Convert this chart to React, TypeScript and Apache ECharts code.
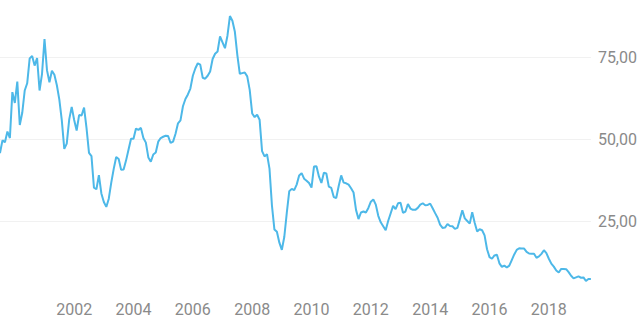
import React, { useEffect, useRef } from "react";
import * as echarts from "echarts";

// Monthly values, July 1999 – June 2019
const startYear = 1999;
const startMonth = 7;

const values: number[] = [
  45.7, 49.6, 49.0, 52.3, 50.3, 64.3, 61.0, 67.5, 54.3, 58.0, 64.8, 67.0,
  74.6, 75.3, 72.4, 74.7, 64.8, 69.9, 80.5, 71.0, 67.3, 70.8, 69.6, 66.4,
  62.0, 55.7, 47.0, 48.6, 56.0, 59.8, 55.8, 52.6, 57.3, 57.2, 59.6, 53.3,
  45.8, 44.8, 35.2, 34.7, 39.0, 33.4, 30.8, 29.3, 31.8, 36.7, 40.9, 44.5,
  43.9, 40.6, 40.7, 43.5, 46.8, 50.1, 50.1, 53.2, 52.8, 53.4, 50.3, 48.9,
  44.4, 43.1, 45.3, 45.9, 49.2, 50.3, 50.7, 51.0, 50.9, 48.8, 49.2, 51.6,
  54.8, 55.7, 60.0, 62.2, 63.6, 65.4, 69.3, 71.5, 73.1, 72.7, 68.7, 68.4,
  69.3, 70.6, 74.4, 76.0, 76.7, 81.3, 79.5, 77.7, 81.5, 87.5, 86.1, 82.7,
  75.6, 69.9, 70.1, 70.3, 69.1, 65.0, 57.8, 56.7, 57.4, 55.9, 46.3, 44.7,
  45.4, 41.0, 29.7, 22.4, 21.7, 18.4, 16.2, 20.2, 27.5, 34.1, 34.8, 34.4,
  36.1, 38.9, 39.6, 37.9, 37.3, 36.6, 35.2, 41.6, 41.7, 38.6, 36.6, 39.7,
  39.5, 35.5, 35.1, 32.3, 32.0, 35.7, 38.9, 36.7, 36.5, 36.1, 35.0, 33.7,
  28.4, 25.6, 27.6, 27.9, 27.6, 29.0, 30.9, 31.6, 30.0, 26.6, 24.6, 23.4,
  22.2, 25.0, 27.3, 29.6, 28.6, 30.4, 30.6, 27.5, 27.9, 30.2, 28.8, 28.4,
  28.4, 29.0, 30.0, 30.4, 29.8, 29.9, 30.3, 28.9, 27.4, 26.0, 23.9, 22.9,
  23.0, 24.1, 23.5, 23.4, 22.6, 22.9, 25.5, 28.3, 25.8, 25.0, 24.2, 27.7,
  24.5, 21.8, 22.5, 22.2, 20.6, 16.4, 14.0, 13.5, 14.5, 14.7, 12.1, 11.0,
  11.4, 10.8, 11.4, 13.1, 14.8, 16.2, 16.7, 16.6, 16.6, 15.6, 15.1, 15.0,
  15.0, 13.8, 14.2, 15.0, 16.1, 15.2, 13.5, 12.0, 11.1, 9.9, 9.3, 10.4,
  10.4, 10.3, 9.4, 8.3, 7.5, 7.8, 8.1, 7.7, 7.8, 6.7, 7.3, 7.3,
];

const months: string[] = values.map((_, i) => {
  const m0 = startMonth - 1 + i;
  const y = startYear + Math.floor(m0 / 12);
  const m = (m0 % 12) + 1;
  return `${y}-${m < 10 ? "0" + m : m}`;
});

const yTicks = [25, 50, 75];
const yMin = 0;
const yMax = 92.4;

export default function App() {
  const ref = useRef<HTMLDivElement>(null);
  useEffect(() => {
    if (!ref.current) return;
    const chart = echarts.init(ref.current, null, { renderer: "svg" });
    chart.setOption({
      animation: false,
      grid: { left: 0, right: 47, top: 0, bottom: 17, containLabel: false },
      xAxis: {
        type: "category",
        data: months,
        boundaryGap: false,
        axisLine: { show: false },
        axisTick: { show: false },
        splitLine: { show: false },
        axisLabel: {
          interval: (idx: number, val: string) => {
            const [y, m] = val.split("-").map(Number);
            return m === 1 && y % 2 === 0 && y >= 2002;
          },
          formatter: (val: string) => val.split("-")[0],
          margin: -2,
          color: "#8a8a8a",
          fontSize: 16,
          fontFamily: "Roboto",
        },
      },
      yAxis: {
        type: "value",
        position: "right",
        min: yMin,
        max: yMax,
        interval: 25,
        axisLine: { show: false },
        axisTick: { show: false },
        splitLine: {
          show: true,
          showMinLine: false,
          showMaxLine: false,
          lineStyle: { color: "#f1f1f1", width: 1 },
        },
        axisLabel: {
          showMinLabel: false,
          showMaxLabel: false,
          margin: 7,
          color: "#8a8a8a",
          fontSize: 16,
          fontFamily: "Roboto",
          formatter: (v: number) =>
            yTicks.includes(v) ? v.toFixed(2).replace(".", ",") : "",
        },
      },
      series: [
        {
          type: "line",
          data: values,
          showSymbol: false,
          symbol: "none",
          lineStyle: { color: "#4db8e8", width: 2 },
          itemStyle: { color: "#4db8e8" },
        },
      ],
    });
    return () => chart.dispose();
  }, []);
  return (
    <div
      ref={ref}
      style={{ position: "absolute", left: 0, top: 0, width: 640, height: 320, background: "#fff" }}
    />
  );
}
